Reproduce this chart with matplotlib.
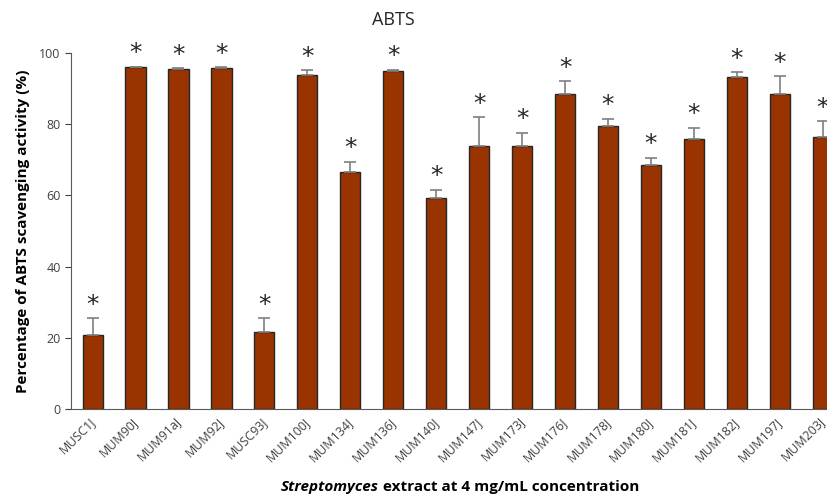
import matplotlib.pyplot as plt
from matplotlib.transforms import ScaledTranslation

strains = ['MUSC1J', 'MUM90J', 'MUM91aJ', 'MUM92J', 'MUSC93J', 'MUM100J', 'MUM134J',
           'MUM136J', 'MUM140J', 'MUM147J', 'MUM173J', 'MUM176J', 'MUM178J', 'MUM180J',
           'MUM181J', 'MUM182J', 'MUM197J', 'MUM203J']
activity = [20.8, 96.0, 95.6, 95.9, 21.7, 93.8, 66.5, 95.0, 59.4, 73.9, 73.8, 88.4,
            79.5, 68.6, 75.9, 93.3, 88.4, 76.5]
errors = [4.7, 0.1, 0.1, 0.1, 3.8, 1.4, 3.0, 0.3, 2.2, 8.0, 3.8, 3.6, 2.0, 2.0, 3.1,
          1.3, 5.1, 4.3]

plt.rcParams['font.family'] = ['Open Sans', 'DejaVu Sans']

fig = plt.figure(figsize=(8.27, 5), dpi=100)
ax = fig.add_axes([0.086, 0.182, 0.914, 0.712])

x = list(range(len(strains)))
ax.bar(x, activity, width=0.47, color='#993300', edgecolor='#262626', linewidth=1.0,
       zorder=2)
ax.errorbar(x, activity, yerr=[[0] * len(errors), errors], fmt='none', ecolor='#7f7f7f',
            elinewidth=1.2, capsize=4, capthick=1.2, zorder=3)

for xi, v, e in zip(x, activity, errors):
    ax.annotate('*', (xi, v + e), xytext=(0, 1), textcoords='offset points',
                ha='center', va='bottom', fontsize=18, color='#262626',
                annotation_clip=False, family='DejaVu Sans')

ax.set_xlim(-0.5, 17.1)
ax.set_ylim(0, 100)
ax.set_yticks([0, 20, 40, 60, 80, 100])
ax.tick_params(axis='y', labelsize=9, colors='#404040', length=4, direction='out')
ax.tick_params(axis='x', length=0, pad=4)
ax.set_xticks(x)
ax.set_xticklabels(strains, rotation=45, ha='right', rotation_mode='anchor',
                   fontsize=9, color='#404040')
shift = ScaledTranslation(-4 / 100, 0, fig.dpi_scale_trans)
for lab in ax.get_xticklabels():
    lab.set_transform(lab.get_transform() + shift)
for s in ['top', 'right']:
    ax.spines[s].set_visible(False)
for s in ['left', 'bottom']:
    ax.spines[s].set_color('#595959')

ax.set_ylabel('Percentage of ABTS scavenging activity (%)', fontsize=11,
              fontweight='bold', labelpad=7)
fig.text(393 / 827, 0.96, 'ABTS', fontsize=13, ha='center', va='center',
         color='#262626')

t1 = fig.text(0.34, 0.012, 'Streptomyces', fontsize=11, fontweight='bold',
              fontstyle='italic', ha='left', va='bottom')
ax.annotate(' extract at 4 mg/mL concentration', xy=(1, 0), xycoords=t1,
            ha='left', va='bottom', fontsize=11, fontweight='bold',
            annotation_clip=False)

fig.savefig('out.png', dpi=100)
